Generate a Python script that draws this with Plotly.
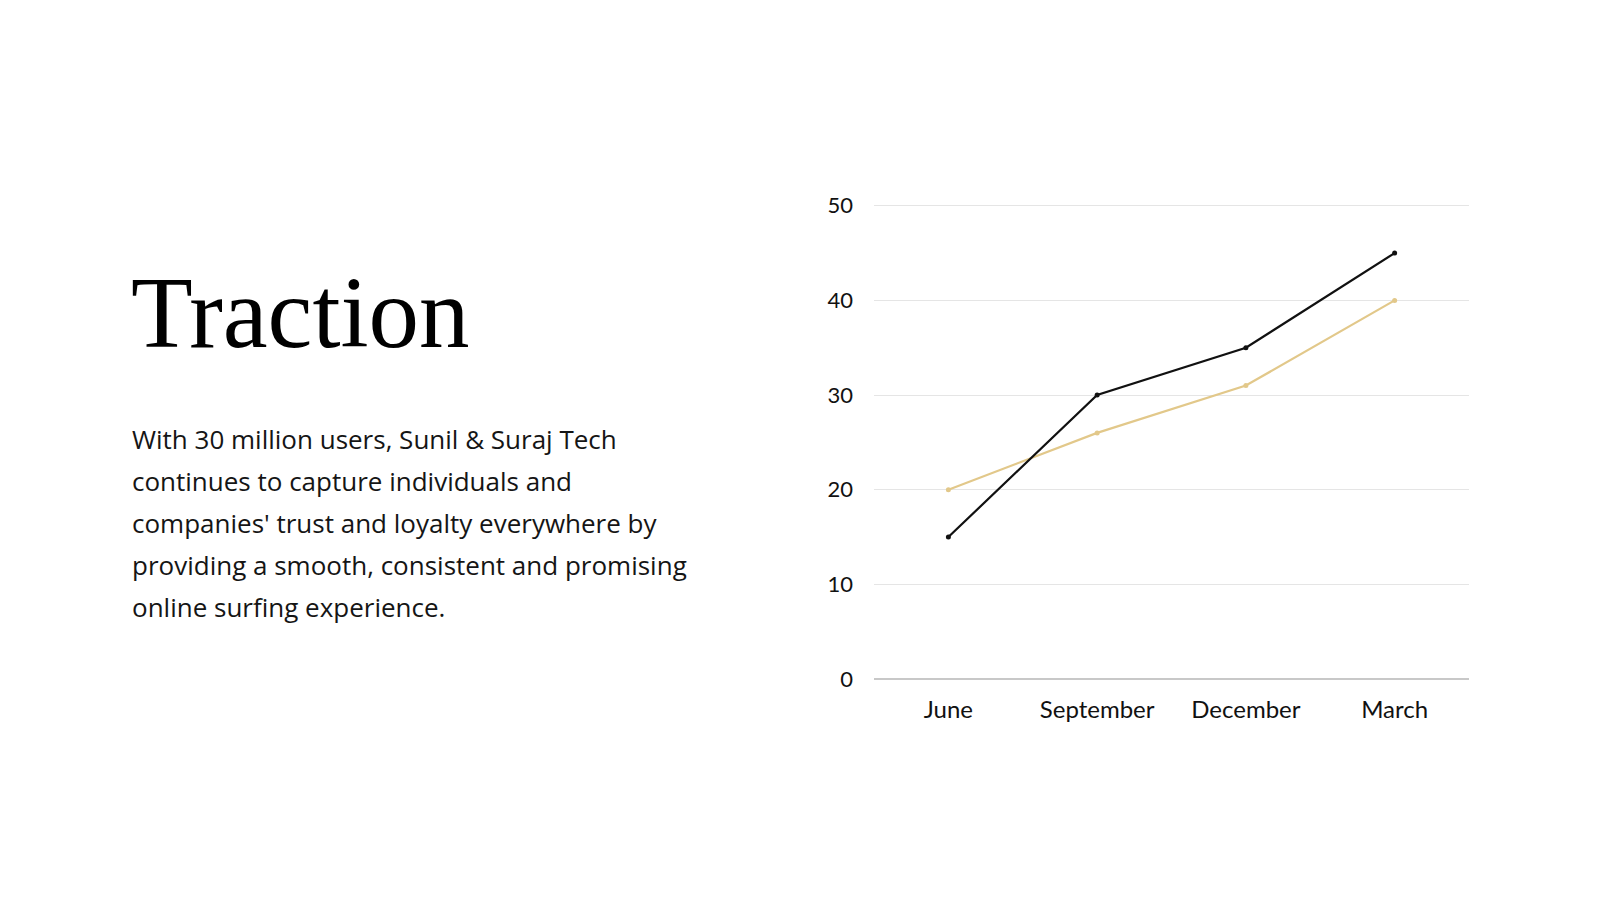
import plotly.graph_objects as go

months = ["June", "September", "December", "March"]
series_dark = [15, 30, 35, 45]
series_gold = [20, 26, 31, 40]
y_ticks = [0, 10, 20, 30, 40, 50]

title_text = "Traction"
body_lines = [
    "With 30 million users, Sunil &amp; Suraj Tech",
    "continues to capture individuals and",
    "companies' trust and loyalty everywhere by",
    "providing a smooth, consistent and promising",
    "online surfing experience.",
]

W, H = 1600, 900
L, R, T, B = 866, 139, 193, 229
pw, ph = W - L - R, H - T - B


def to_paper(px, py):
    # pixel position on the page -> paper coordinates
    return (px - L) / pw, (H - B - py) / ph


fig = go.Figure()
fig.add_trace(go.Scatter(
    x=months, y=series_gold, mode="lines+markers",
    line=dict(color="#E2C88A", width=2.2),
    marker=dict(size=5, color="#E2C88A"),
))
fig.add_trace(go.Scatter(
    x=months, y=series_dark, mode="lines+markers",
    line=dict(color="#111111", width=2.2),
    marker=dict(size=5, color="#111111"),
))

tx, ty = to_paper(121, 340)
fig.add_annotation(
    text=title_text, xref="paper", yref="paper", x=tx, y=ty,
    showarrow=False, xanchor="left", yanchor="bottom",
    font=dict(family="Liberation Serif", size=101, color="#000000"),
    yshift=-23,
)

for i, line in enumerate(body_lines):
    ax, ay = to_paper(122, 431 + 42 * i)
    fig.add_annotation(
        text=line, xref="paper", yref="paper", x=ax, y=ay,
        showarrow=False, xanchor="left", yanchor="middle",
        font=dict(family="Open Sans", size=26, color="#151515"),
    )

fig.update_layout(
    width=W, height=H,
    margin=dict(l=L, r=R, t=T, b=B),
    paper_bgcolor="white", plot_bgcolor="white",
    showlegend=False,
    font=dict(family="Lato", color="#111111"),
)
fig.update_xaxes(
    type="category", range=[-0.5, 3.5],
    showgrid=False, showline=False, zeroline=False,
    ticks="", tickfont=dict(size=24, color="#111111"),
    ticklabelstandoff=14,
)
fig.update_yaxes(
    range=[0, 50.5], tickvals=y_ticks,
    showgrid=True, gridcolor="#E5E5E5", gridwidth=1,
    zeroline=True, zerolinecolor="#C8C8C8", zerolinewidth=1.5,
    showline=False, ticks="",
    tickfont=dict(size=22, color="#111111"),
    ticklabelstandoff=20,
)

fig.write_html("out.html")
